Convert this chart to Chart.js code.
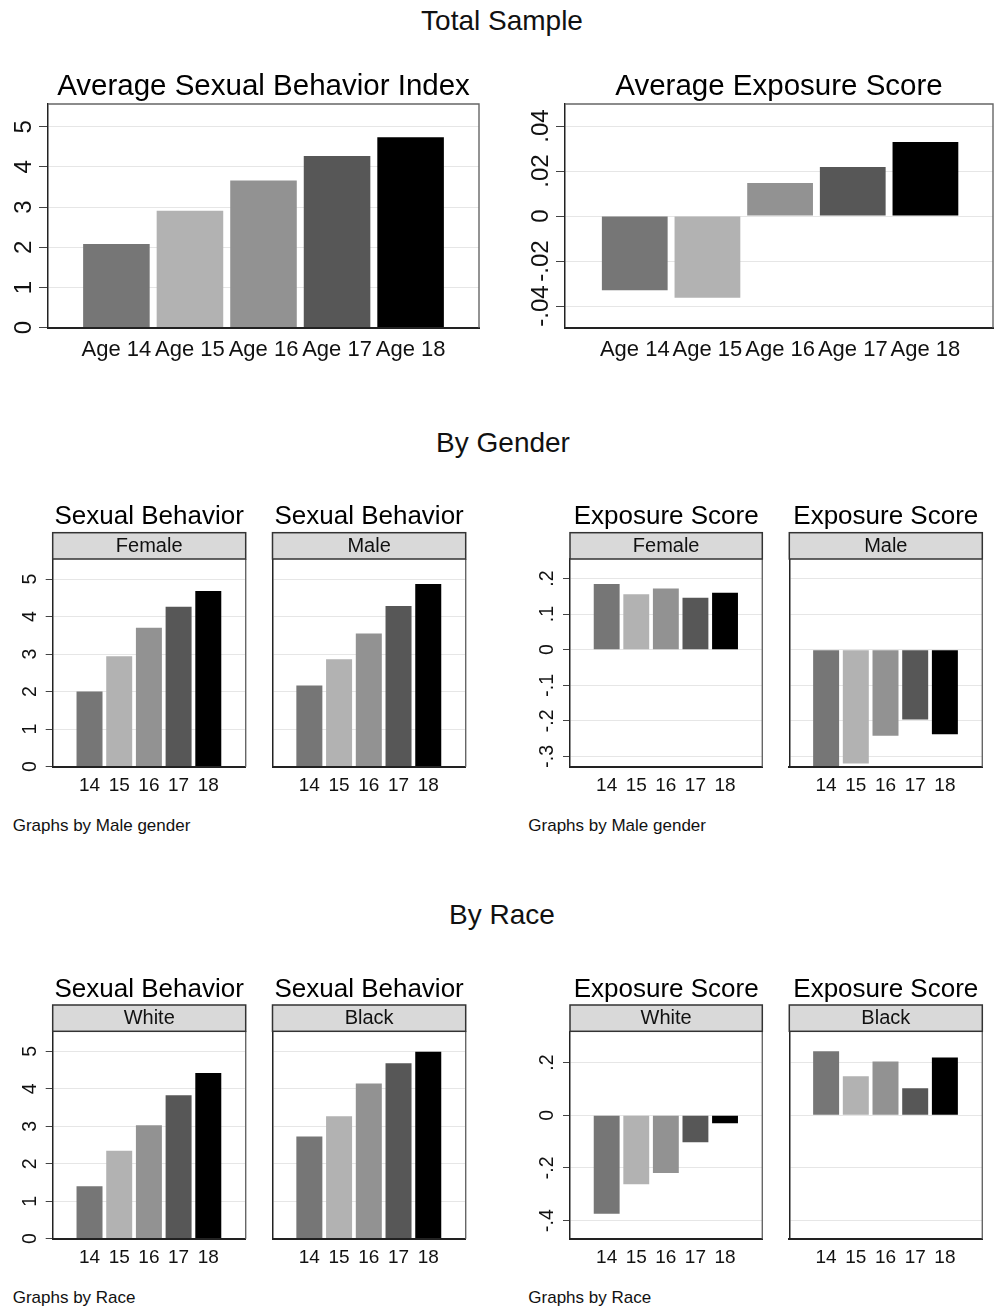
<!DOCTYPE html>
<html>
<head>
<meta charset="utf-8">
<script src="https://cdn.jsdelivr.net/npm/chart.js@4.4.1/dist/chart.umd.min.js"></script>
<style>
html,body{margin:0;padding:0;background:#fff;}
body{width:995px;height:1309px;position:relative;overflow:hidden;font-family:'Liberation Sans',Arial,sans-serif;color:#111;}
.txt{position:absolute;white-space:nowrap;line-height:1;}
.ctr{transform:translate(-50%,-50%);}
.lft{transform:translate(0,-50%);}
canvas{position:absolute;}
</style>
</head>
<body>
<div class="txt ctr" style="left:502px;top:20.5px;font-size:28px;">Total Sample</div>
<div class="txt ctr" style="left:503px;top:442.5px;font-size:28px;">By Gender</div>
<div class="txt ctr" style="left:502px;top:914.5px;font-size:28px;">By Race</div>
<div class="txt lft" style="left:12.7px;top:825px;font-size:17px;">Graphs by Male gender</div>
<div class="txt lft" style="left:528.3px;top:825px;font-size:17px;">Graphs by Male gender</div>
<div class="txt lft" style="left:12.7px;top:1297px;font-size:17px;">Graphs by Race</div>
<div class="txt lft" style="left:528.3px;top:1297px;font-size:17px;">Graphs by Race</div>

<script>
// ---------------- DATA ----------------
const ages = [14, 15, 16, 17, 18];
const ageLabelsLong = ['Age 14', 'Age 15', 'Age 16', 'Age 17', 'Age 18'];
const ageLabelsShort = ['14', '15', '16', '17', '18'];

const sbTotal   = [2.08, 2.91, 3.66, 4.27, 4.74];
const expTotal  = [-0.0330, -0.0363, 0.0147, 0.0218, 0.0329];

const sbFemale  = [2.00, 2.94, 3.70, 4.26, 4.68];
const sbMale    = [2.16, 2.86, 3.55, 4.28, 4.87];
const expFemale = [0.185, 0.156, 0.172, 0.146, 0.160];
const expMale   = [-0.330, -0.320, -0.242, -0.196, -0.238];

const sbWhite   = [1.40, 2.35, 3.03, 3.83, 4.42];
const sbBlack   = [2.73, 3.27, 4.14, 4.68, 4.99];
const expWhite  = [-0.374, -0.262, -0.219, -0.103, -0.030];
const expBlack  = [0.243, 0.148, 0.204, 0.103, 0.219];

const sbTicks = [0, 1, 2, 3, 4, 5];
const sbTickLabels = ['0', '1', '2', '3', '4', '5'];
const expTotalTicks = [-0.04, -0.02, 0, 0.02, 0.04];
const expTotalTickLabels = ['-.04', '-.02', '0', '.02', '.04'];
const expGenderTicks = [-0.3, -0.2, -0.1, 0, 0.1, 0.2];
const expGenderTickLabels = ['-.3', '-.2', '-.1', '0', '.1', '.2'];
const expRaceTicks = [-0.4, -0.2, 0, 0.2];
const expRaceTickLabels = ['-.4', '-.2', '0', '.2'];

// ---------------- STYLE / LAYOUT ----------------
const FAMILY = "'Liberation Sans', Arial, sans-serif";
const barColors = ['#767676', '#b2b2b2', '#929292', '#575757', '#000000'];

const STYLE = {
  big:   {titleFont: 29.5, titleGap: 9.5, stripH: 0, stripFont: 20, xFont: 22, xCenter: 22, yFont: 24, yCenter: 24, tickLen: 9, barPct: 0.905},
  small: {titleFont: 26, titleGap: 8.4, stripH: 26.3, stripFont: 20, xFont: 19, xCenter: 19.5, yFont: 19.5, yCenter: 22.5, tickLen: 7, barPct: 0.875}
};

const panels = [
  {data: sbTotal,  L: 48,  T: 104, R: 479, B: 327.7, xr: [13.07, 18.93], yr: [0, 5.565], yt: sbTicks, yl: sbTickLabels, xl: ageLabelsLong, title: 'Average Sexual Behavior Index', strip: null, showY: true, size: 'big'},
  {data: expTotal, L: 565, T: 104, R: 993, B: 327.7, xr: [13.04, 18.93], yr: [-0.0496, 0.0498], yt: expTotalTicks, yl: expTotalTickLabels, xl: ageLabelsLong, title: 'Average Exposure Score', strip: null, showY: true, size: 'big'},

  {data: sbFemale, L: 52.7,  T: 559, R: 245.7, B: 766.7, xr: [12.76, 19.26], yr: [0, 5.533], yt: sbTicks, yl: sbTickLabels, xl: ageLabelsShort, title: 'Sexual Behavior', strip: 'Female', showY: true, size: 'small'},
  {data: sbMale,   L: 272.5, T: 559, R: 465.7, B: 766.7, xr: [12.76, 19.26], yr: [0, 5.533], yt: sbTicks, yl: sbTickLabels, xl: ageLabelsShort, title: 'Sexual Behavior', strip: 'Male', showY: false, size: 'small'},
  {data: expFemale, L: 570,  T: 559, R: 762.3, B: 766.7, xr: [12.76, 19.26], yr: [-0.329, 0.255], yt: expGenderTicks, yl: expGenderTickLabels, xl: ageLabelsShort, title: 'Exposure Score', strip: 'Female', showY: true, size: 'small'},
  {data: expMale,   L: 789.3, T: 559, R: 982.3, B: 766.7, xr: [12.76, 19.26], yr: [-0.329, 0.255], yt: expGenderTicks, yl: expGenderTickLabels, xl: ageLabelsShort, title: 'Exposure Score', strip: 'Male', showY: false, size: 'small'},

  {data: sbWhite,  L: 52.7,  T: 1031.3, R: 245.7, B: 1238.7, xr: [12.76, 19.26], yr: [0, 5.534], yt: sbTicks, yl: sbTickLabels, xl: ageLabelsShort, title: 'Sexual Behavior', strip: 'White', showY: true, size: 'small'},
  {data: sbBlack,  L: 272.5, T: 1031.3, R: 465.7, B: 1238.7, xr: [12.76, 19.26], yr: [0, 5.534], yt: sbTicks, yl: sbTickLabels, xl: ageLabelsShort, title: 'Sexual Behavior', strip: 'Black', showY: false, size: 'small'},
  {data: expWhite, L: 570,   T: 1031.3, R: 762.3, B: 1238.7, xr: [12.76, 19.26], yr: [-0.469, 0.319], yt: expRaceTicks, yl: expRaceTickLabels, xl: ageLabelsShort, title: 'Exposure Score', strip: 'White', showY: true, size: 'small'},
  {data: expBlack, L: 789.3, T: 1031.3, R: 982.3, B: 1238.7, xr: [12.76, 19.26], yr: [-0.469, 0.319], yt: expRaceTicks, yl: expRaceTickLabels, xl: ageLabelsShort, title: 'Exposure Score', strip: 'Black', showY: false, size: 'small'}
];

// ---------------- PLUGIN: frame, strip, title ----------------
const panelDecor = {
  id: 'panelDecor',
  afterDraw(chart, args, o) {
    const {ctx, chartArea: a} = chart;
    ctx.save();
    ctx.strokeStyle = '#666';
    ctx.lineWidth = 1.4;
    ctx.beginPath();
    ctx.moveTo(a.right, a.bottom);
    ctx.lineTo(a.right, a.top);
    if (!o.strip) ctx.lineTo(a.left, a.top);
    ctx.stroke();
    let base = a.top - o.titleGap;
    if (o.strip) {
      const h = o.stripH;
      ctx.fillStyle = '#d9d9d9';
      ctx.fillRect(a.left, a.top - h, a.right - a.left, h);
      ctx.strokeStyle = '#333';
      ctx.lineWidth = 1.5;
      ctx.strokeRect(a.left, a.top - h, a.right - a.left, h);
      ctx.fillStyle = '#111';
      ctx.font = o.stripFont + 'px ' + FAMILY;
      ctx.textAlign = 'center';
      ctx.textBaseline = 'middle';
      ctx.fillText(o.strip, (a.left + a.right) / 2, a.top - h / 2 + 0.5);
      base = a.top - h - o.titleGap;
    }
    ctx.fillStyle = '#000';
    ctx.font = o.titleFont + 'px ' + FAMILY;
    ctx.textAlign = 'center';
    ctx.textBaseline = 'alphabetic';
    ctx.fillText(o.title, (a.left + a.right) / 2, base);
    ctx.restore();
  }
};

const measureCtx = document.createElement('canvas').getContext('2d');

function build(p) {
  const s = STYLE[p.size];
  const cx = Math.floor(p.L - 50), cy = Math.floor(p.T - 70);
  const cw = Math.ceil(p.R + 4) - cx, ch = Math.ceil(p.B + 40) - cy;
  const yW = p.L - cx, topPad = p.T - cy, rightPad = cx + cw - p.R, xH = cy + ch - p.B;

  measureCtx.font = 'normal ' + s.yFont + 'px ' + FAMILY;
  let widest = 0;
  p.yl.forEach(t => { widest = Math.max(widest, measureCtx.measureText(t).width); });
  const yPad = s.yCenter - s.tickLen - widest / 2;
  const xPad = s.xCenter - s.xFont * 0.6;

  const cv = document.createElement('canvas');
  cv.width = cw; cv.height = ch;
  cv.style.left = cx + 'px'; cv.style.top = cy + 'px';
  cv.style.width = cw + 'px'; cv.style.height = ch + 'px';
  document.body.appendChild(cv);

  new Chart(cv, {
    type: 'bar',
    data: {
      datasets: [{
        data: ages.map((a, i) => ({x: a, y: p.data[i]})),
        backgroundColor: barColors,
        borderWidth: 0,
        categoryPercentage: 1,
        barPercentage: s.barPct
      }]
    },
    options: {
      responsive: false,
      animation: false,
      devicePixelRatio: 1,
      layout: {padding: {left: 0, top: topPad, right: rightPad, bottom: 0}},
      plugins: {
        legend: {display: false},
        tooltip: {enabled: false},
        title: {display: false},
        panelDecor: {title: p.title, strip: p.strip, stripH: s.stripH, stripFont: s.stripFont, titleFont: s.titleFont, titleGap: s.titleGap}
      },
      scales: {
        x: {
          type: 'linear', position: 'bottom', offset: false, bounds: 'data',
          min: p.xr[0], max: p.xr[1],
          afterBuildTicks: sc => { sc.ticks = ages.map(v => ({value: v})); },
          afterFit: sc => { sc.height = xH; },
          ticks: {autoSkip: false, maxRotation: 0, minRotation: 0, padding: xPad, color: '#111',
                  font: {family: FAMILY, size: s.xFont}, callback: (v, i) => p.xl[i]},
          grid: {display: false, drawTicks: false},
          border: {display: true, color: '#222', width: 2, z: 1}
        },
        y: {
          type: 'linear', position: 'left', bounds: 'data',
          min: p.yr[0], max: p.yr[1],
          afterBuildTicks: sc => { sc.ticks = p.yt.map(v => ({value: v})); },
          afterFit: sc => { sc.width = yW; },
          ticks: {display: p.showY, minRotation: 90, maxRotation: 90, crossAlign: 'center', padding: yPad,
                  color: '#111', font: {family: FAMILY, size: s.yFont}, callback: (v, i) => p.yl[i]},
          grid: {color: '#e6e6e6', lineWidth: 1, drawTicks: p.showY, tickLength: s.tickLen, tickColor: '#444', tickWidth: 1},
          border: {display: true, color: '#222', width: 1.5, z: 1}
        }
      }
    },
    plugins: [panelDecor]
  });
}

panels.forEach(build);
</script>
</body>
</html>
